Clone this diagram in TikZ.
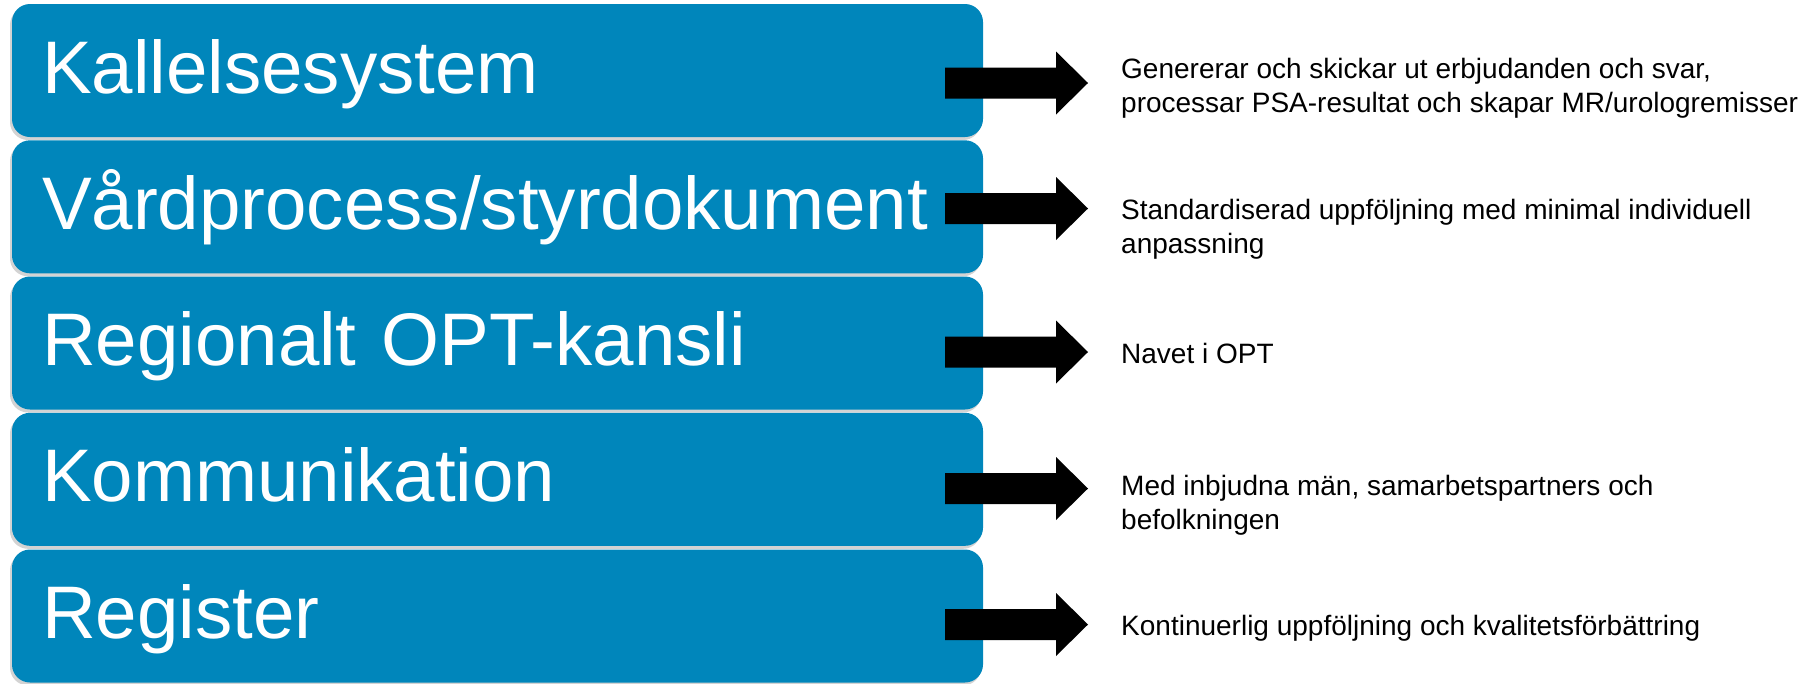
\documentclass[tikz,border=0pt]{standalone}
\usepackage{fontspec}
\setmainfont{Liberation Sans}
\usetikzlibrary{shadows}

\definecolor{boxblue}{RGB}{0,134,187}

\begin{document}
\begin{tikzpicture}[
  x=1pt, y=-1pt,
  kbox/.style={rectangle, rounded corners=18pt, fill=boxblue, text=white,
    minimum height=133pt, text width=911pt, align=left,
    inner xsep=30pt, inner ysep=0pt, text height=55pt, text depth=10pt,
    font=\fontsize{74.5}{80}\selectfont,
    drop shadow={shadow xshift=-2pt, shadow yshift=-3pt, opacity=.35}},
  desc/.style={anchor=base west, inner sep=0pt, align=left,
    font=\fontsize{28}{34}\selectfont},
  blockarrow/.style={fill=black}
]

% page size of the reference
\useasboundingbox (0,0) rectangle (1815,683);

% the five blue boxes
\node[kbox] (k1) at (497.5,70.5)  {Kallelsesystem};
\node[kbox] (k2) at (497.5,206.8) {Vårdprocess/styrdokument};
\node[kbox] (k3) at (497.5,343)   {Regionalt OPT-kansli};
\node[kbox] (k4) at (497.5,479.3) {Kommunikation};
\node[kbox] (k5) at (497.5,616)   {Register};

% start points of the block arrows
\coordinate (a1) at (945,83);
\coordinate (a2) at (945,208.5);
\coordinate (a3) at (945,352);
\coordinate (a4) at (945,488.5);
\coordinate (a5) at (945,624.5);

\newcommand{\blkarrow}[1]{%
  \fill[blockarrow] (#1) ++(0,-15.5) -- ++(111,0) -- ++(0,-16) -- ++(32,31.5)
    -- ++(-32,31.5) -- ++(0,-16) -- ++(-111,0) -- cycle;}
\blkarrow{a1}
\blkarrow{a2}
\blkarrow{a3}
\blkarrow{a4}
\blkarrow{a5}

% descriptions (base = last line)
\node[desc] (d1) at (1121,112) {Genererar och skickar ut erbjudanden och svar,\\processar PSA-resultat och skapar MR/urologremisser};
\node[desc] (d2) at (1121,253) {Standardiserad uppföljning med minimal individuell\\anpassning};
\node[desc] (d3) at (1121,363) {Navet i OPT};
\node[desc] (d4) at (1121,529) {Med inbjudna män, samarbetspartners och\\befolkningen};
\node[desc] (d5) at (1121,635) {Kontinuerlig uppföljning och kvalitetsförbättring};

\end{tikzpicture}
\end{document}
